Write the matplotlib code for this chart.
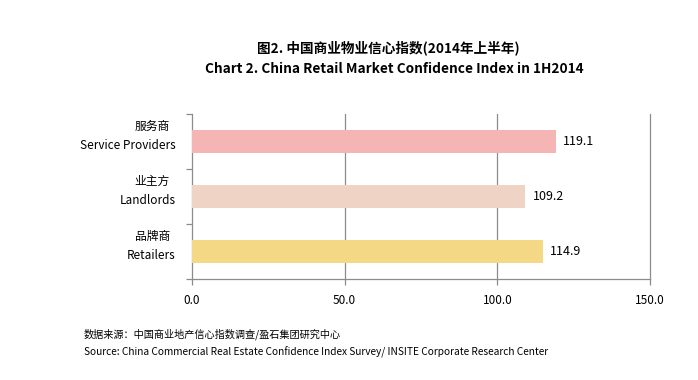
import matplotlib
matplotlib.use('Agg')
import matplotlib.pyplot as plt

plt.rcParams['font.family'] = ['Noto Sans CJK SC', 'DejaVu Sans']

# 数据
categories_cn = ['服务商', '业主方', '品牌商']
categories_en = ['Service Providers', 'Landlords', 'Retailers']
values = [119.1, 109.2, 114.9]
bar_colors = ['#F4B5B4', '#EFD4C6', '#F4D886']
x_ticks = [0, 50, 100, 150]

title_cn = '图2. 中国商业物业信心指数(2014年上半年)'
title_en = 'Chart 2. China Retail Market Confidence Index in 1H2014'
source_cn = '数据来源：中国商业地产信心指数调查/盈石集团研究中心'
source_en = 'Source: China Commercial Real Estate Confidence Index Survey/ INSITE Corporate Research Center'


def plot_chart():
    fig = plt.figure(figsize=(6.98, 3.8), dpi=100)
    ax = fig.add_axes([0.2751, 0.2658, 0.6562, 0.4342])

    pos = list(range(len(values)))
    ax.barh(pos, values, height=0.43, color=bar_colors, zorder=3)

    for i, v in enumerate(values):
        ax.text(v + 2.3, i, f'{v:.1f}', va='center', ha='left', fontsize=9, color='black')

    ax.set_xlim(0, 150)
    ax.set_ylim(2.5, -0.5)
    ax.set_xticks(x_ticks)
    ax.set_xticklabels([f'{t:.1f}' for t in x_ticks], fontsize=8.5)
    ax.set_yticks([-0.5, 0.5, 1.5, 2.5])
    ax.set_yticklabels([])

    # 网格线 (150 处也要完整显示)
    for t in x_ticks[1:]:
        ax.axvline(t, color='#8c8c8c', linewidth=0.9, zorder=0, clip_on=False)
    for s in ['top', 'right']:
        ax.spines[s].set_visible(False)
    for s in ['left', 'bottom']:
        ax.spines[s].set_color('#8c8c8c')
        ax.spines[s].set_linewidth(0.9)
    ax.tick_params(axis='both', colors='#8c8c8c', length=4, width=0.9, labelcolor='black')
    ax.tick_params(axis='x', pad=7)

    # 类别标签 (中文在上, 英文在下)
    trans = ax.get_yaxis_transform()
    for i in pos:
        ax.text(-0.048, i - 0.28, categories_cn[i], transform=trans, ha='right', va='center',
                fontsize=8.5)
        ax.text(-0.036, i + 0.08, categories_en[i], transform=trans, ha='right', va='center',
                fontsize=8.5)

    fig.text(0.557, 0.873, title_cn, ha='center', va='center', fontsize=9.8, fontweight='bold')
    fig.text(0.565, 0.819, title_en, ha='center', va='center', fontsize=9.8, fontweight='bold')

    fig.text(0.12, 0.121, source_cn, ha='left', va='center', fontsize=7.3)
    fig.text(0.12, 0.074, source_en, ha='left', va='center', fontsize=7.3)

    fig.savefig('out.png', dpi=100)


def main():
    plot_chart()


if __name__ == '__main__':
    main()
